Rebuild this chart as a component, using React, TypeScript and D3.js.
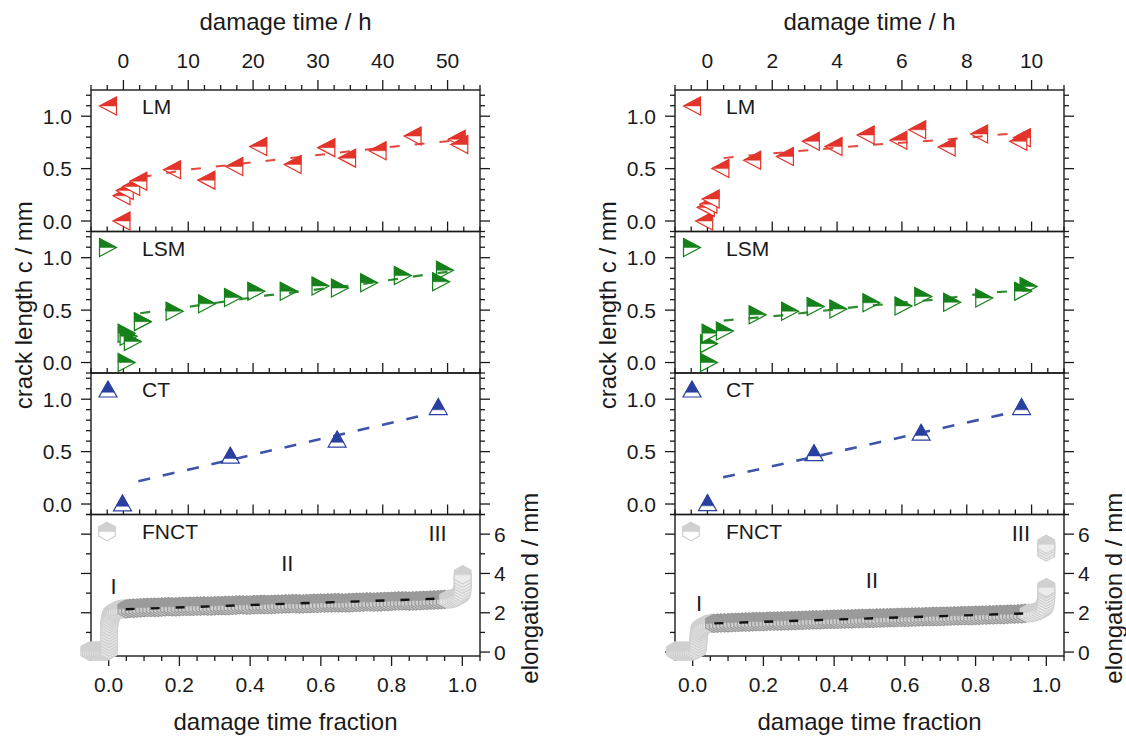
import React from 'react';
import * as d3 from 'd3';

// ---------- layout ----------
const W = 1126;
const H = 737;
const FONT = "'Liberation Sans', Arial, Helvetica, sans-serif";
const PANEL_TOP = 90;
const PANEL_H = 141.5;
const FRAME_W = 389;
const INK = '#1a1a1a';

// ---------- axis ticks ----------
const timeTicksLeft = [0, 10, 20, 30, 40, 50];
const timeTicksRight = [0, 2, 4, 6, 8, 10];
const fractionTicks = [0, 0.2, 0.4, 0.6, 0.8, 1.0];
const crackTickLabels = [0, 0.5, 1.0];
const elongTickLabels = [0, 2, 4, 6];
const stageLabels = ['I', 'II', 'III'];

// ---------- left column (long test, ~50 h) ----------
const lmTimeL = [-0.3, -0.3, 0.2, 1.2, 2.3, 7.5, 12.8, 17.1, 20.8, 26.1, 31.3, 34.5, 39.2, 44.6, 51.4, 51.8];
const lmCrackL = [0.0, 0.24, 0.29, 0.33, 0.38, 0.49, 0.39, 0.52, 0.71, 0.54, 0.70, 0.60, 0.67, 0.81, 0.78, 0.73];
const lmFitTimeL = [2.8, 10, 20, 30, 40, 53];
const lmFitCrackL = [0.42, 0.49, 0.56, 0.63, 0.70, 0.78];

const lsmTimeL = [0.5, 0.5, 0.8, 1.45, 3.0, 7.9, 12.9, 16.9, 20.5, 25.5, 30.4, 33.4, 37.9, 43.1, 49.6, 49.0];
const lsmCrackL = [0.0, 0.28, 0.25, 0.20, 0.39, 0.49, 0.56, 0.62, 0.68, 0.68, 0.73, 0.71, 0.76, 0.83, 0.88, 0.77];
const lsmFitTimeL = [2.6, 11, 22.1, 36.4, 47.7, 50.8];
const lsmFitCrackL = [0.47, 0.54, 0.64, 0.745, 0.847, 0.87];

const ctFracL = [0.039, 0.344, 0.646, 0.932];
const ctCrackL = [0.01, 0.466, 0.62, 0.93];
const ctFitFracL = [0.084, 0.908];
const ctFitCrackL = [0.218, 0.86];

const fnctFracL_I = [-0.055, -0.05, -0.045, -0.04, -0.035, -0.03, -0.025, -0.02, -0.015, -0.01, -0.006, -0.002, 0.0, 0.001, 0.001, 0.001, 0.001, 0.001, 0.001, 0.001, 0.001, 0.002, 0.003, 0.004, 0.006, 0.008, 0.011, 0.014, 0.018, 0.023, 0.029, 0.035, 0.042];
const fnctElongL_I = [0.05, 0.05, 0.05, 0.05, 0.05, 0.05, 0.05, 0.05, 0.05, 0.05, 0.05, 0.06, 0.1, 0.25, 0.4, 0.55, 0.7, 0.85, 1.0, 1.15, 1.3, 1.45, 1.58, 1.7, 1.81, 1.9, 1.98, 2.04, 2.09, 2.13, 2.16, 2.18, 2.19];
const fnctFracL_II = [0.05, 0.06, 0.07, 0.08, 0.09, 0.10, 0.11, 0.12, 0.13, 0.14, 0.15, 0.16, 0.17, 0.18, 0.19, 0.20, 0.21, 0.22, 0.23, 0.24, 0.25, 0.26, 0.27, 0.28, 0.29, 0.30, 0.31, 0.32, 0.33, 0.34, 0.35, 0.36, 0.37, 0.38, 0.39, 0.40, 0.41, 0.42, 0.43, 0.44, 0.45, 0.46, 0.47, 0.48, 0.49, 0.50, 0.51, 0.52, 0.53, 0.54, 0.55, 0.56, 0.57, 0.58, 0.59, 0.60, 0.61, 0.62, 0.63, 0.64, 0.65, 0.66, 0.67, 0.68, 0.69, 0.70, 0.71, 0.72, 0.73, 0.74, 0.75, 0.76, 0.77, 0.78, 0.79, 0.80, 0.81, 0.82, 0.83, 0.84, 0.85, 0.86, 0.87, 0.88, 0.89, 0.90, 0.91, 0.92, 0.93, 0.94, 0.95];
const fnctElongL_II = [
  2.20, 2.22, 2.23, 2.24, 2.25, 2.26, 2.27, 2.27, 2.28, 2.28,
  2.29, 2.30, 2.31, 2.30, 2.30, 2.31, 2.32, 2.32, 2.33, 2.33,
  2.34, 2.34, 2.35, 2.34, 2.34, 2.35, 2.36, 2.36, 2.37, 2.37,
  2.38, 2.39, 2.40, 2.40, 2.39, 2.39, 2.41, 2.41, 2.42, 2.42,
  2.41, 2.42, 2.43, 2.44, 2.44, 2.45, 2.45, 2.46, 2.46, 2.45,
  2.45, 2.46, 2.47, 2.48, 2.48, 2.49, 2.49, 2.50, 2.50, 2.51,
  2.51, 2.50, 2.50, 2.51, 2.52, 2.53, 2.53, 2.54, 2.55, 2.55,
  2.54, 2.55, 2.56, 2.57, 2.57, 2.58, 2.59, 2.60, 2.60, 2.60,
  2.59, 2.60, 2.61, 2.62, 2.63, 2.63, 2.64, 2.65, 2.66, 2.67,
  2.68,
];
const fnctFracL_III = [0.96, 0.968, 0.975, 0.981, 0.986, 0.991, 0.995, 0.998, 1.0, 1.001, 1.001, 1.001, 1.001, 1.001];
const fnctElongL_III = [2.69, 2.71, 2.73, 2.76, 2.80, 2.86, 2.94, 3.04, 3.16, 3.30, 3.45, 3.60, 3.76, 3.93];
const fnctFitFracL = [0.048, 0.937];
const fnctFitElongL = [2.18, 2.72];
const stageFracL = [0.014, 0.505, 0.93];
const stageElongL = [2.94, 4.15, 5.65];

// ---------- right column (short test, ~10 h) ----------
const lmTimeR = [-0.1, -0.05, 0.03, 0.1, 0.4, 1.38, 2.39, 3.19, 3.89, 4.88, 5.89, 6.47, 7.38, 8.38, 9.70, 9.59];
const lmCrackR = [0.0, 0.13, 0.16, 0.21, 0.50, 0.58, 0.615, 0.76, 0.71, 0.82, 0.77, 0.87, 0.705, 0.83, 0.795, 0.76];
const lmFitTimeR = [0.5, 1.28, 2.82, 5.08, 7.33, 9.69, 9.95];
const lmFitCrackR = [0.60, 0.625, 0.667, 0.728, 0.776, 0.843, 0.845];

const lsmTimeR = [0.05, 0.05, 0.1, 0.54, 1.55, 2.55, 3.34, 4.04, 5.06, 6.05, 6.66, 7.55, 8.54, 9.91, 9.74];
const lsmCrackR = [0.0, 0.18, 0.28, 0.30, 0.455, 0.49, 0.535, 0.51, 0.57, 0.54, 0.63, 0.575, 0.615, 0.725, 0.68];
const lsmFitTimeR = [0.5, 2.3, 4.6, 7.0, 8.8, 10.0];
const lsmFitCrackR = [0.40, 0.45, 0.53, 0.60, 0.67, 0.69];

const ctFracR = [0.042, 0.343, 0.646, 0.93];
const ctCrackR = [0.014, 0.49, 0.685, 0.93];
const ctFitFracR = [0.086, 0.904];
const ctFitCrackR = [0.255, 0.875];

const fnctFracR_I = [-0.05, -0.045, -0.04, -0.035, -0.03, -0.025, -0.02, -0.015, -0.01, -0.005, 0.0, 0.006, 0.012, 0.015, 0.016, 0.016, 0.017, 0.017, 0.018, 0.019, 0.021, 0.024, 0.028, 0.033, 0.039, 0.046, 0.053];
const fnctElongR_I = [0.05, 0.05, 0.05, 0.05, 0.05, 0.05, 0.05, 0.05, 0.05, 0.05, 0.06, 0.08, 0.14, 0.28, 0.42, 0.56, 0.7, 0.84, 0.97, 1.08, 1.17, 1.25, 1.32, 1.37, 1.41, 1.44, 1.46];
const fnctFracR_II = [0.06, 0.07, 0.08, 0.09, 0.10, 0.11, 0.12, 0.13, 0.14, 0.15, 0.16, 0.17, 0.18, 0.19, 0.20, 0.21, 0.22, 0.23, 0.24, 0.25, 0.26, 0.27, 0.28, 0.29, 0.30, 0.31, 0.32, 0.33, 0.34, 0.35, 0.36, 0.37, 0.38, 0.39, 0.40, 0.41, 0.42, 0.43, 0.44, 0.45, 0.46, 0.47, 0.48, 0.49, 0.50, 0.51, 0.52, 0.53, 0.54, 0.55, 0.56, 0.57, 0.58, 0.59, 0.60, 0.61, 0.62, 0.63, 0.64, 0.65, 0.66, 0.67, 0.68, 0.69, 0.70, 0.71, 0.72, 0.73, 0.74, 0.75, 0.76, 0.77, 0.78, 0.79, 0.80, 0.81, 0.82, 0.83, 0.84, 0.85, 0.86, 0.87, 0.88, 0.89, 0.90, 0.91, 0.92, 0.93, 0.94];
const fnctElongR_II = [
  1.46, 1.47, 1.48, 1.48, 1.49, 1.50, 1.51, 1.51, 1.52, 1.53,
  1.53, 1.54, 1.55, 1.55, 1.55, 1.56, 1.57, 1.57, 1.58, 1.58,
  1.59, 1.59, 1.60, 1.60, 1.61, 1.61, 1.62, 1.63, 1.64, 1.64,
  1.64, 1.65, 1.66, 1.66, 1.67, 1.67, 1.68, 1.68, 1.69, 1.69,
  1.70, 1.70, 1.71, 1.71, 1.72, 1.72, 1.73, 1.73, 1.74, 1.74,
  1.75, 1.75, 1.76, 1.76, 1.77, 1.77, 1.78, 1.78, 1.79, 1.79,
  1.80, 1.80, 1.81, 1.81, 1.82, 1.82, 1.83, 1.83, 1.84, 1.84,
  1.85, 1.85, 1.86, 1.86, 1.87, 1.87, 1.88, 1.88, 1.89, 1.89,
  1.90, 1.91, 1.91, 1.92, 1.93, 1.93, 1.94, 1.95, 1.97,
];
const fnctFracR_III = [0.95, 0.96, 0.968, 0.976, 0.983, 0.989, 0.993, 0.996, 0.998, 0.999, 1.0, 1.0, 1.0, 1.0, 1.0, 1.0, 1.0, 1.0, 1.0];
const fnctElongR_III = [1.98, 2.0, 2.03, 2.07, 2.12, 2.19, 2.28, 2.39, 2.52, 2.66, 2.80, 2.94, 3.08, 3.20, 3.28, 5.10, 5.22, 5.36, 5.48];
const fnctFitFracR = [0.061, 0.948];
const fnctFitElongR = [1.46, 1.97];
const stageFracR = [0.018, 0.507, 0.928];
const stageElongR = [2.09, 3.25, 5.65];

// ---------- styles ----------
const C_LM = '#e2342a';
const C_LSM = '#16801a';
const C_CT = '#2a40a0';
const C_FNCT_LIGHT = '#d0d0d0';
const C_FNCT_DARK = '#9a9a9a';

// marker outlines and filled halves, centred on the point
const SHAPES = {
  left: { outline: 'M-8.5,0L8.5,-9L8.5,9Z', half: 'M-8.5,0L8.5,-9L8.5,0Z' },
  right: { outline: 'M8.5,0L-8.5,-9L-8.5,9Z', half: 'M8.5,0L-8.5,-9L-8.5,0Z' },
  up: { outline: 'M0,-8L9,8L-9,8Z', half: 'M0,-8L6.36,3.3L-6.36,3.3Z' },
  hex: { outline: 'M0,-9.2L8.3,-4.6L8.3,4.6L0,9.2L-8.3,4.6L-8.3,-4.6Z', half: 'M-8.3,0L-8.3,-4.6L0,-9.2L8.3,-4.6L8.3,0Z' },
};

function Marker({ shape, x, y, color, lower = '#fff' }) {
  const s = SHAPES[shape];
  return (
    <g transform={`translate(${x},${y})`}>
      <path d={s.outline} fill={lower} stroke={color} strokeWidth={1.2} />
      <path d={s.half} fill={color} stroke={color} strokeWidth={0.5} />
    </g>
  );
}

function Column(p) {
  const x0 = p.x0;
  const x1 = x0 + FRAME_W;
  const tops = [0, 1, 2, 3].map(i => PANEL_TOP + i * PANEL_H);
  const bottom = PANEL_TOP + 4 * PANEL_H;

  const xt = d3.scaleLinear().domain(p.timeDomain).range([x0, x1]);
  const xf = d3.scaleLinear().domain([-0.05, 1.05]).range([x0, x1]);
  const yc = tops.slice(0, 3).map(t => d3.scaleLinear().domain([-0.1, 1.25]).range([t + PANEL_H, t]));
  const ye = d3.scaleLinear().domain([-0.2, 7]).range([bottom, tops[3]]);

  const timeMinor = d3.range(p.timeDomain[0], p.timeDomain[1] + 1e-9, p.timeMinor);
  const fracMinor = d3.range(-0.05, 1.05 + 1e-9, 0.05);
  const crackMinor = d3.range(-0.1, 1.25, 0.1);
  const elongMinor = d3.range(0, 7.01, 1);
  const isMajor = (v, step) => Math.abs(v / step - Math.round(v / step)) < 1e-6;
  const isTimeMajor = v => p.timeTicks.some(t => Math.abs(t - v) < 1e-9);

  const lineT = (ys) => d3.line().x(d => xt(d[0])).y(d => ys(d[1]));
  const lineF = (ys) => d3.line().x(d => xf(d[0])).y(d => ys(d[1]));

  const tickStroke = { stroke: INK, strokeWidth: 1.3 };
  const mid = x0 + FRAME_W / 2;

  const fnctSets = [
    { xs: p.fnct.fracI, ys: p.fnct.elongI, color: C_FNCT_LIGHT, lower: '#e4e4e4' },
    { xs: p.fnct.fracII, ys: p.fnct.elongII, color: C_FNCT_DARK, lower: '#cdcdcd' },
    { xs: p.fnct.fracIII, ys: p.fnct.elongIII, color: C_FNCT_LIGHT, lower: '#ececec' },
  ];

  const crackSeries = [
    { name: 'LM', shape: 'left', color: C_LM, x: xt, data: d3.zip(p.lm.t, p.lm.c), fit: d3.zip(p.lm.ft, p.lm.fc), gen: lineT, w: 2, dash: '10,15' },
    { name: 'LSM', shape: 'right', color: C_LSM, x: xt, data: d3.zip(p.lsm.t, p.lsm.c), fit: d3.zip(p.lsm.ft, p.lsm.fc), gen: lineT, w: 2.2, dash: '10,15' },
    { name: 'CT', shape: 'up', color: C_CT, x: xf, data: d3.zip(p.ct.f, p.ct.c), fit: d3.zip(p.ct.ff, p.ct.fc), gen: lineF, w: 2.6, dash: '12,13' },
  ];

  return (
    <g fontFamily={FONT} fill={INK}>
      {/* top time axis */}
      {timeMinor.map((v, i) => (
        <line key={'tt' + i} x1={xt(v)} x2={xt(v)} y1={PANEL_TOP} y2={PANEL_TOP - (isTimeMajor(v) ? 10 : 5)} {...tickStroke} />
      ))}
      {p.timeTicks.map(v => (
        <text key={'tl' + v} x={xt(v)} y={PANEL_TOP - 22} fontSize={21} textAnchor="middle">{v}</text>
      ))}
      <text x={mid} y={30} fontSize={24} textAnchor="middle">damage time / h</text>

      {/* internal boundaries: ticks pointing up */}
      {[0, 1, 2].map(i => timeMinor.map((v, j) => {
        const yb = tops[i] + PANEL_H;
        return <line key={`bt${i}-${j}`} x1={xt(v)} x2={xt(v)} y1={yb} y2={yb - (isTimeMajor(v) ? 10 : 5)} {...tickStroke} />;
      }))}

      {/* bottom fraction axis */}
      {fracMinor.map((v, i) => (
        <line key={'ft' + i} x1={xf(v)} x2={xf(v)} y1={bottom} y2={bottom + (isMajor(v, 0.2) ? 10 : 5)} {...tickStroke} />
      ))}
      {fractionTicks.map(v => (
        <text key={'fl' + v} x={xf(v)} y={bottom + 36} fontSize={21} textAnchor="middle">{v.toFixed(1)}</text>
      ))}
      <text x={mid} y={730} fontSize={24} textAnchor="middle">damage time fraction</text>

      {/* crack length y axes */}
      {yc.map((ys, i) => (
        <g key={'yc' + i}>
          {crackMinor.map((v, j) => {
            const L = isMajor(v, 0.5) ? 10 : 5;
            return (
              <g key={j}>
                <line x1={x0} x2={x0 - L} y1={ys(v)} y2={ys(v)} {...tickStroke} />
                <line x1={x1} x2={x1 + L} y1={ys(v)} y2={ys(v)} {...tickStroke} />
              </g>
            );
          })}
          {crackTickLabels.map(v => (
            <text key={'cl' + v} x={x0 - 19} y={ys(v) + 7.5} fontSize={21} textAnchor="end">{v.toFixed(1)}</text>
          ))}
        </g>
      ))}
      <text transform={`translate(${x0 - 59},${PANEL_TOP + 1.5 * PANEL_H + 3}) rotate(-90)`} fontSize={24} textAnchor="middle">crack length c / mm</text>

      {/* elongation axis (FNCT) */}
      {elongMinor.map((v, j) => {
        const L = isMajor(v, 2) ? 10 : 5;
        return (
          <g key={'ye' + j}>
            <line x1={x0} x2={x0 - L} y1={ye(v)} y2={ye(v)} {...tickStroke} />
            <line x1={x1} x2={x1 + L} y1={ye(v)} y2={ye(v)} {...tickStroke} />
          </g>
        );
      })}
      {elongTickLabels.map(v => (
        <text key={'el' + v} x={x1 + 14} y={ye(v) + 7.5} fontSize={21}>{v}</text>
      ))}
      <text transform={`translate(${x1 + 58},${tops[3] + PANEL_H / 2 + 3}) rotate(-90)`} fontSize={24} textAnchor="middle">elongation d / mm</text>

      {/* frames */}
      {tops.map((t, i) => (
        <rect key={'fr' + i} x={x0} y={t} width={FRAME_W} height={PANEL_H} fill="none" stroke={INK} strokeWidth={1.4} />
      ))}

      {/* crack series */}
      {crackSeries.map((s, i) => (
        <g key={s.name}>
          {s.data.map((d, j) => (
            <Marker key={j} shape={s.shape} x={s.x(d[0])} y={yc[i](d[1])} color={s.color} />
          ))}
          <path d={s.gen(yc[i])(s.fit)} fill="none" stroke={s.color} strokeWidth={s.w} strokeDasharray={s.dash} opacity={0.9} />
          <Marker shape={s.shape} x={x0 + 17} y={tops[i] + 16} color={s.color} />
          <text x={x0 + 51} y={tops[i] + 24} fontSize={21}>{s.name}</text>
        </g>
      ))}

      {/* FNCT series */}
      {fnctSets.map((set, k) => (
        <g key={'fn' + k}>
          {set.xs.map((v, j) => (
            <Marker key={j} shape="hex" x={xf(v)} y={ye(set.ys[j])} color={set.color} lower={set.lower} />
          ))}
        </g>
      ))}
      <path d={lineF(ye)(d3.zip(p.fnct.fitF, p.fnct.fitE))} fill="none" stroke="#111" strokeWidth={2.4} strokeDasharray="9,16" />
      <Marker shape="hex" x={x0 + 16} y={tops[3] + 17} color={C_FNCT_LIGHT} />
      <text x={x0 + 51} y={tops[3] + 24} fontSize={21}>FNCT</text>
      {stageLabels.map((s, i) => (
        <text key={s} x={xf(p.stageF[i])} y={ye(p.stageE[i])} fontSize={22} textAnchor="middle">{s}</text>
      ))}
    </g>
  );
}

export default function App() {
  return (
    <svg width={W} height={H} style={{ position: 'absolute', left: 0, top: 0, background: '#fff' }}>
      <rect x={0} y={0} width={W} height={H} fill="#fff" />
      <Column
        x0={91}
        timeDomain={[-5, 55]}
        timeTicks={timeTicksLeft}
        timeMinor={2.5}
        lm={{ t: lmTimeL, c: lmCrackL, ft: lmFitTimeL, fc: lmFitCrackL }}
        lsm={{ t: lsmTimeL, c: lsmCrackL, ft: lsmFitTimeL, fc: lsmFitCrackL }}
        ct={{ f: ctFracL, c: ctCrackL, ff: ctFitFracL, fc: ctFitCrackL }}
        fnct={{
          fracI: fnctFracL_I, elongI: fnctElongL_I,
          fracII: fnctFracL_II, elongII: fnctElongL_II,
          fracIII: fnctFracL_III, elongIII: fnctElongL_III,
          fitF: fnctFitFracL, fitE: fnctFitElongL,
        }}
        stageF={stageFracL}
        stageE={stageElongL}
      />
      <Column
        x0={675}
        timeDomain={[-1, 11]}
        timeTicks={timeTicksRight}
        timeMinor={0.5}
        lm={{ t: lmTimeR, c: lmCrackR, ft: lmFitTimeR, fc: lmFitCrackR }}
        lsm={{ t: lsmTimeR, c: lsmCrackR, ft: lsmFitTimeR, fc: lsmFitCrackR }}
        ct={{ f: ctFracR, c: ctCrackR, ff: ctFitFracR, fc: ctFitCrackR }}
        fnct={{
          fracI: fnctFracR_I, elongI: fnctElongR_I,
          fracII: fnctFracR_II, elongII: fnctElongR_II,
          fracIII: fnctFracR_III, elongIII: fnctElongR_III,
          fitF: fnctFitFracR, fitE: fnctFitElongR,
        }}
        stageF={stageFracR}
        stageE={stageElongR}
      />
    </svg>
  );
}
